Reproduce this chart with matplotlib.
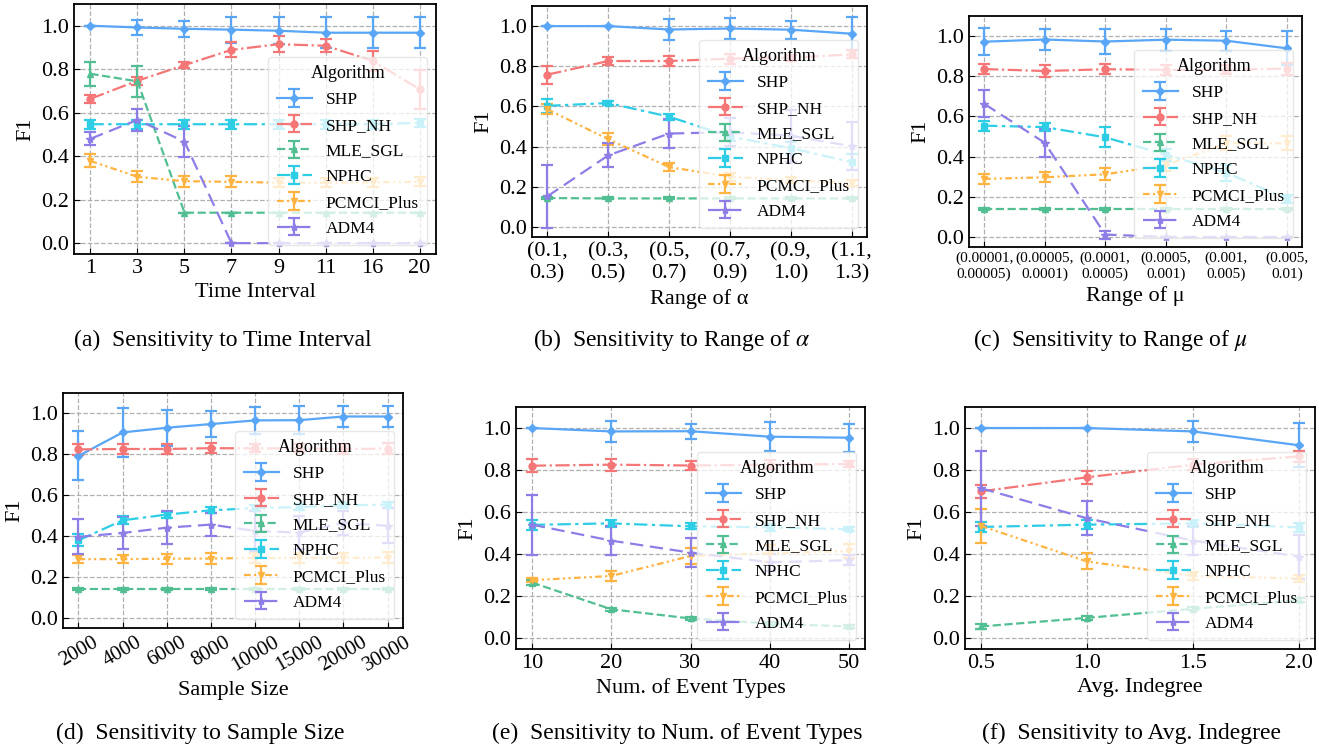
import matplotlib
matplotlib.use('Agg')
import matplotlib.pyplot as plt
import numpy as np

plt.rcParams['font.family'] = ['Liberation Serif', 'DejaVu Serif']
plt.rcParams['mathtext.fontset'] = 'stix'

algos = ['SHP', 'SHP_NH', 'MLE_SGL', 'NPHC', 'PCMCI_Plus', 'ADM4']
colors = ['#58a6f5', '#f57676', '#52bf92', '#2ecde6', '#ffb340', '#8c7ee6']
markers = ['D', 'o', '^', 's', 'v', '*']
msizes = [4, 5, 5, 5, 5, 6]
styles = ['-', '-.', '--', (0, (6, 2, 1.5, 2)), (0, (3, 1.5, 1, 1.5, 1, 1.5)), (0, (6, 3))]

# (a) time interval
a_x = ['1', '3', '5', '7', '9', '11', '16', '20']
a_y = {
    'SHP': [1.0, 0.992, 0.986, 0.982, 0.977, 0.968, 0.968, 0.968],
    'SHP_NH': [0.664, 0.747, 0.819, 0.889, 0.915, 0.908, 0.839, 0.708],
    'MLE_SGL': [0.779, 0.744, 0.14, 0.14, 0.14, 0.14, 0.14, 0.14],
    'NPHC': [0.547, 0.547, 0.547, 0.547, 0.547, 0.547, 0.547, 0.553],
    'PCMCI_Plus': [0.378, 0.305, 0.285, 0.282, 0.278, 0.278, 0.28, 0.282],
    'ADM4': [0.48, 0.567, 0.467, 0.0, 0.0, 0.0, 0.0, 0.0],
}
a_e = {
    'SHP': [0, 0.033, 0.038, 0.06, 0.062, 0.07, 0.07, 0.07],
    'SHP_NH': [0.018, 0.018, 0.012, 0.034, 0.038, 0.03, 0.045, 0.09],
    'MLE_SGL': [0.056, 0.07, 0, 0, 0, 0, 0, 0],
    'NPHC': [0.02, 0.02, 0.02, 0.02, 0.02, 0.02, 0.02, 0.02],
    'PCMCI_Plus': [0.03, 0.025, 0.025, 0.025, 0.02, 0.02, 0.02, 0.02],
    'ADM4': [0.03, 0.05, 0.07, 0, 0, 0, 0, 0],
}

# (b) range of alpha
b_x = ['(0.1,\n0.3)', '(0.3,\n0.5)', '(0.5,\n0.7)', '(0.7,\n0.9)', '(0.9,\n1.0)', '(1.1,\n1.3)']
b_y = {
    'SHP': [1.0, 1.0, 0.983, 0.988, 0.982, 0.962],
    'SHP_NH': [0.758, 0.826, 0.826, 0.838, 0.843, 0.859],
    'MLE_SGL': [0.144, 0.142, 0.142, 0.142, 0.142, 0.142],
    'NPHC': [0.603, 0.617, 0.549, 0.45, 0.392, 0.323],
    'PCMCI_Plus': [0.586, 0.437, 0.298, 0.25, 0.233, 0.218],
    'ADM4': [0.152, 0.356, 0.465, 0.472, 0.454, 0.402],
}
b_e = {
    'SHP': [0, 0, 0.05, 0.05, 0.045, 0.083],
    'SHP_NH': [0.045, 0.02, 0.025, 0.025, 0.015, 0.02],
    'MLE_SGL': [0.005, 0.005, 0.005, 0.005, 0.005, 0.005],
    'NPHC': [0.035, 0.01, 0.015, 0.02, 0.03, 0.04],
    'PCMCI_Plus': [0.025, 0.03, 0.02, 0.02, 0.015, 0.015],
    'ADM4': [0.157, 0.06, 0.07, 0.07, 0.13, 0.12],
}

# (c) range of mu
c_x = ['(0.00001,\n0.00005)', '(0.00005,\n0.0001)', '(0.0001,\n0.0005)', '(0.0005,\n0.001)',
       '(0.001,\n0.005)', '(0.005,\n0.01)']
c_y = {
    'SHP': [0.972, 0.983, 0.973, 0.982, 0.977, 0.939],
    'SHP_NH': [0.836, 0.826, 0.835, 0.832, 0.832, 0.838],
    'MLE_SGL': [0.14, 0.14, 0.14, 0.14, 0.14, 0.14],
    'NPHC': [0.554, 0.547, 0.496, 0.41, 0.32, 0.189],
    'PCMCI_Plus': [0.289, 0.297, 0.312, 0.357, 0.466, 0.466],
    'ADM4': [0.663, 0.469, 0.012, 0.0, 0.0, 0.0],
}
c_e = {
    'SHP': [0.066, 0.05, 0.06, 0.055, 0.05, 0.085],
    'SHP_NH': [0.025, 0.028, 0.025, 0.025, 0.022, 0.03],
    'MLE_SGL': [0.005, 0.005, 0.005, 0.005, 0.005, 0.005],
    'NPHC': [0.025, 0.018, 0.05, 0.03, 0.04, 0.02],
    'PCMCI_Plus': [0.025, 0.025, 0.03, 0.03, 0.035, 0.035],
    'ADM4': [0.068, 0.07, 0.02, 0, 0, 0],
}

# (d) sample size
d_x = ['2000', '4000', '6000', '8000', '10000', '15000', '20000', '30000']
d_y = {
    'SHP': [0.792, 0.907, 0.93, 0.948, 0.966, 0.967, 0.985, 0.985],
    'SHP_NH': [0.824, 0.826, 0.826, 0.83, 0.829, 0.829, 0.826, 0.828],
    'MLE_SGL': [0.14, 0.14, 0.14, 0.14, 0.14, 0.14, 0.14, 0.14],
    'NPHC': [0.379, 0.477, 0.505, 0.526, 0.537, 0.542, 0.55, 0.554],
    'PCMCI_Plus': [0.287, 0.287, 0.289, 0.29, 0.293, 0.293, 0.293, 0.295],
    'ADM4': [0.396, 0.415, 0.441, 0.456, 0.425, 0.417, 0.464, 0.45],
}
d_e = {
    'SHP': [0.12, 0.12, 0.087, 0.064, 0.067, 0.067, 0.05, 0.05],
    'SHP_NH': [0.025, 0.025, 0.025, 0.025, 0.02, 0.02, 0.025, 0.025],
    'MLE_SGL': [0.005, 0.005, 0.005, 0.005, 0.005, 0.005, 0.005, 0.005],
    'NPHC': [0.03, 0.02, 0.015, 0.015, 0.015, 0.015, 0.015, 0.015],
    'PCMCI_Plus': [0.02, 0.02, 0.025, 0.025, 0.025, 0.025, 0.025, 0.025],
    'ADM4': [0.085, 0.08, 0.08, 0.055, 0.1, 0.08, 0.06, 0.085],
}

# (e) number of event types
e_x = [10, 20, 30, 40, 50]
e_y = {
    'SHP': [1.0, 0.984, 0.985, 0.959, 0.954],
    'SHP_NH': [0.821, 0.826, 0.822, 0.826, 0.829],
    'MLE_SGL': [0.266, 0.139, 0.095, 0.071, 0.057],
    'NPHC': [0.54, 0.547, 0.533, 0.528, 0.519],
    'PCMCI_Plus': [0.277, 0.297, 0.392, 0.405, 0.416],
    'ADM4': [0.541, 0.465, 0.408, 0.362, 0.372],
}
e_e = {
    'SHP': [0, 0.048, 0.036, 0.07, 0.066],
    'SHP_NH': [0.032, 0.028, 0.02, 0.02, 0.015],
    'MLE_SGL': [0.01, 0.008, 0.008, 0.008, 0.006],
    'NPHC': [0.025, 0.015, 0.015, 0.015, 0.01],
    'PCMCI_Plus': [0.01, 0.025, 0.04, 0.04, 0.035],
    'ADM4': [0.142, 0.07, 0.07, 0.04, 0.025],
}

# (f) average indegree
f_x = [0.5, 1.0, 1.5, 2.0]
f_y = {
    'SHP': [1.0, 1.0, 0.984, 0.918],
    'SHP_NH': [0.699, 0.766, 0.826, 0.865],
    'MLE_SGL': [0.057, 0.098, 0.141, 0.182],
    'NPHC': [0.53, 0.541, 0.547, 0.528],
    'PCMCI_Plus': [0.535, 0.366, 0.297, 0.285],
    'ADM4': [0.714, 0.571, 0.465, 0.389],
}
f_e = {
    'SHP': [0, 0, 0.048, 0.105],
    'SHP_NH': [0.03, 0.03, 0.025, 0.025],
    'MLE_SGL': [0.01, 0.008, 0.008, 0.008],
    'NPHC': [0.025, 0.02, 0.015, 0.02],
    'PCMCI_Plus': [0.08, 0.038, 0.02, 0.015],
    'ADM4': [0.178, 0.08, 0.07, 0.105],
}

W, H = 1319, 752
fig = plt.figure(figsize=(W / 100, H / 100), dpi=100)


def add_ax(l, t, r, b):
    return fig.add_axes([l / W, 1 - b / H, (r - l) / W, (b - t) / H])


panels = [
    # rect, x labels, y, err, xlabel, caption, caption pos, tick size, rotation
    ((74, 4, 436, 254), a_x, a_y, a_e, 'Time Interval', '(a)  Sensitivity to Time Interval', (223, 340), 16, 0),
    ((532, 6, 867, 237), b_x, b_y, b_e, 'Range of α', r'(b)  Sensitivity to Range of $\alpha$', (672, 340), 16, 0),
    ((969, 16, 1302, 247), c_x, c_y, c_e, 'Range of μ', r'(c)  Sensitivity to Range of $\mu$', (1110, 340), 11, 0),
    ((63, 393, 403, 628), d_x, d_y, d_e, 'Sample Size', '(d)  Sensitivity to Sample Size', (200, 733), 15, 30),
    ((516, 407, 865, 649), e_x, e_y, e_e, 'Num. of Event Types', '(e)  Sensitivity to Num. of Event Types', (677, 733), 16, 0),
    ((965, 407, 1315, 649), f_x, f_y, f_e, 'Avg. Indegree', '(f)  Sensitivity to Avg. Indegree', (1132, 733), 16, 0),
]

for rect, xs, ys, es, xlabel, caption, cpos, tsize, rot in panels:
    ax = add_ax(*rect)
    categorical = isinstance(xs[0], str)
    xpos = np.arange(len(xs)) if categorical else np.array(xs)
    for i, name in enumerate(algos):
        ax.errorbar(xpos, ys[name], yerr=es[name], label=name, color=colors[i],
                    marker=markers[i], markersize=msizes[i], linestyle=styles[i],
                    linewidth=1.6, elinewidth=1.6, capsize=4, capthick=1.6)
    if categorical:
        ax.set_xticks(xpos)
        ax.set_xticklabels(xs)
    else:
        ax.set_xticks(xs)
    ax.set_ylim(-0.05, 1.1)
    ax.set_yticks([0.0, 0.2, 0.4, 0.6, 0.8, 1.0])
    ax.grid(True, linestyle='--', color='#b0b0b0', linewidth=0.9)
    ax.tick_params(direction='in', labelsize=16, length=4)
    ax.tick_params(axis='x', labelsize=tsize)
    if rot:
        for lab in ax.get_xticklabels():
            lab.set_rotation(rot)
            lab.set_ha('center')
    ax.set_ylabel('F1', fontsize=16)
    ax.set_xlabel(xlabel, fontsize=16)
    for sp in ax.spines.values():
        sp.set_linewidth(1.3)
    leg = ax.legend(title='Algorithm', loc='lower right', fontsize=12.5, title_fontsize=13,
                    framealpha=0.75, handlelength=2.0, labelspacing=0.55,
                    handletextpad=0.8, borderpad=0.5)
    leg.get_frame().set_edgecolor('#e0e0e0')
    fig.text(cpos[0] / W, 1 - cpos[1] / H, caption, ha='center', va='center', fontsize=17)

fig.savefig('out.png', dpi=100)
